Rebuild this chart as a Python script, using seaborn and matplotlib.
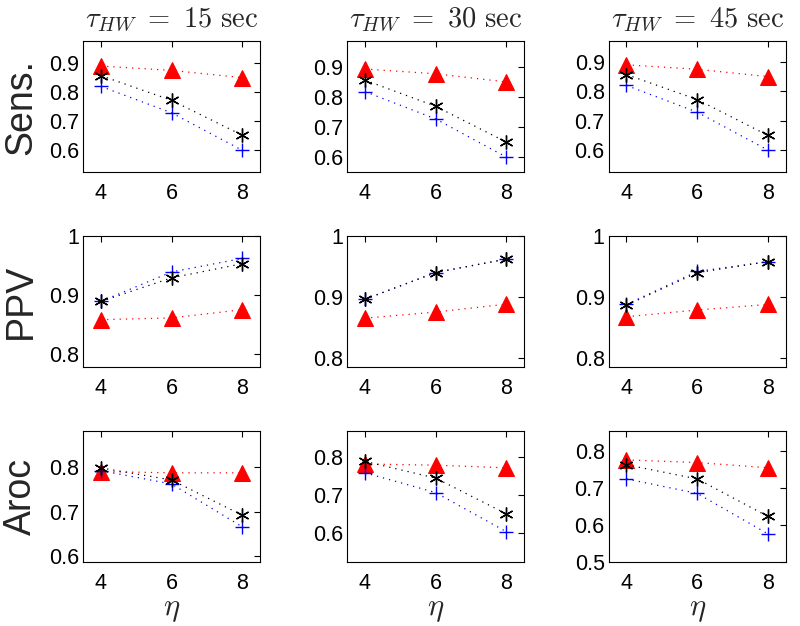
import matplotlib
matplotlib.use("Agg")
import matplotlib.pyplot as plt
import seaborn as sns
from matplotlib.ticker import FuncFormatter

# x values and panel labels
eta = [4, 6, 8]
taus = [15, 30, 45]
metrics = ['Sens.', 'PPV', 'Aroc']

# one inner list per tau (15, 30, 45 sec), values at eta = 4, 6, 8
sens_tri = [[0.890, 0.875, 0.850], [0.893, 0.877, 0.850], [0.890, 0.875, 0.850]]
sens_ast = [[0.857, 0.772, 0.652], [0.856, 0.769, 0.650], [0.857, 0.772, 0.650]]
sens_plus = [[0.820, 0.729, 0.600], [0.818, 0.727, 0.600], [0.820, 0.729, 0.600]]

ppv_tri = [[0.858, 0.861, 0.875], [0.865, 0.875, 0.888], [0.868, 0.879, 0.888]]
ppv_ast = [[0.889, 0.929, 0.953], [0.896, 0.940, 0.962], [0.887, 0.940, 0.958]]
ppv_plus = [[0.889, 0.939, 0.962], [0.896, 0.940, 0.962], [0.888, 0.942, 0.958]]

aroc_tri = [[0.790, 0.787, 0.787], [0.782, 0.779, 0.772], [0.775, 0.768, 0.754]]
aroc_ast = [[0.798, 0.771, 0.692], [0.789, 0.745, 0.651], [0.762, 0.724, 0.623]]
aroc_plus = [[0.792, 0.762, 0.666], [0.759, 0.707, 0.604], [0.724, 0.685, 0.576]]

series = [(sens_tri, sens_ast, sens_plus),
          (ppv_tri, ppv_ast, ppv_plus),
          (aroc_tri, aroc_ast, aroc_plus)]

ylims = [[(0.525, 0.975), (0.55, 0.985), (0.525, 0.97)],
         [(0.778, 1.0), (0.785, 1.0), (0.786, 1.0)],
         [(0.587, 0.88), (0.524, 0.868), (0.5, 0.852)]]
yticks = [[[0.6, 0.7, 0.8, 0.9]] * 3,
          [[0.8, 0.9, 1.0]] * 3,
          [[0.6, 0.7, 0.8], [0.6, 0.7, 0.8], [0.5, 0.6, 0.7, 0.8]]]

sns.set_style('white')
plt.rcParams['font.family'] = ['Liberation Sans', 'DejaVu Sans']
plt.rcParams['mathtext.fontset'] = 'cm'

fig = plt.figure(figsize=(8, 6.26), dpi=100)

lefts = [0.104, 0.434, 0.761]
bottoms = [0.725, 0.414, 0.102]
w, h = 0.221, 0.209

asterisk = (6, 2, 0)
dot = (0, (1, 4))

for r in range(3):
    for c in range(3):
        ax = fig.add_axes([lefts[c], bottoms[r], w, h])
        tri, ast, plus = series[r]
        sns.lineplot(x=eta, y=tri[c], ax=ax, color='red', linestyle=dot, lw=0.9,
                     marker='^', markersize=11, markeredgecolor='red',
                     markerfacecolor='red', errorbar=None)
        sns.lineplot(x=eta, y=plus[c], ax=ax, color='blue', linestyle=dot, lw=0.9,
                     marker='+', markersize=10, markeredgecolor='blue',
                     markeredgewidth=1, errorbar=None)
        sns.lineplot(x=eta, y=ast[c], ax=ax, color='black', linestyle=dot, lw=0.9,
                     marker=asterisk, markersize=10, markeredgecolor='black',
                     markeredgewidth=1, errorbar=None)
        ax.set_xlim(3.5, 8.5)
        ax.set_ylim(*ylims[r][c])
        ax.set_xticks(eta)
        ax.set_yticks(yticks[r][c])
        ax.yaxis.set_major_formatter(FuncFormatter(lambda v, p: '{:g}'.format(round(v, 2))))
        ax.tick_params(direction='in', top=True, right=True, length=4,
                       width=0.8, labelsize=15.5, colors='black')
        ax.tick_params(axis='x', pad=8)
        ax.tick_params(axis='y', pad=3)
        for s in ax.spines.values():
            s.set_color('black')
            s.set_linewidth(0.8)
        ax.set_xlabel('')
        ax.set_ylabel('')
        if r == 0:
            ax.set_title(r'$\tau_{HW}\ =\ %d\ \mathrm{sec}$' % taus[c], fontsize=20.5, pad=10)
        if c == 0:
            ax.set_ylabel(metrics[r], fontsize=27)
            ax.yaxis.set_label_coords(-0.25, 0.5)
        if r == 2:
            ax.set_xlabel(r'$\eta$', fontsize=22, labelpad=0)

fig.savefig('out.png', dpi=100)
